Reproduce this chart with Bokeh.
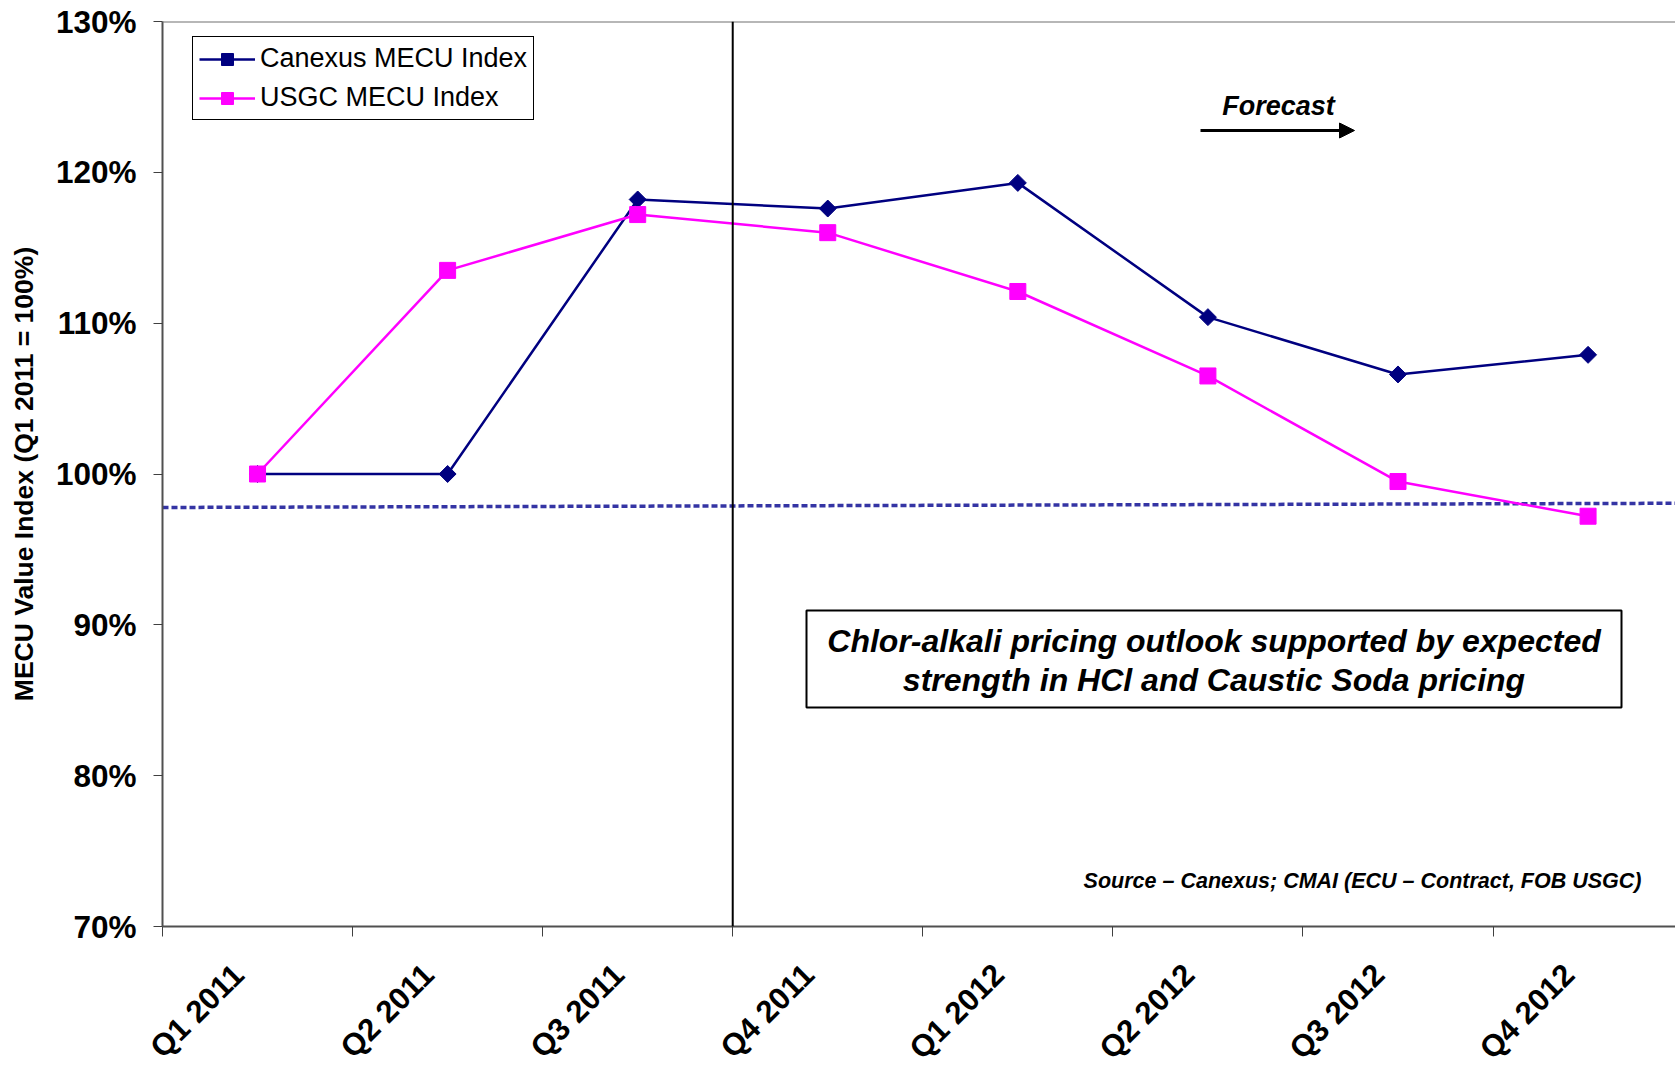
from math import pi
from bokeh.plotting import figure
from bokeh.models import (FixedTicker, Range1d, Span, Arrow, NormalHead, Label,
                          BoxAnnotation, Legend, LegendItem)
from bokeh.embed import file_html
from bokeh.resources import INLINE

# ---- data ----
quarters = ["Q1 2011", "Q2 2011", "Q3 2011", "Q4 2011",
            "Q1 2012", "Q2 2012", "Q3 2012", "Q4 2012"]
canexus = [100.0, 100.0, 118.2, 117.6, 119.3, 110.4, 106.6, 107.9]
usgc = [100.0, 113.5, 117.2, 116.0, 112.1, 106.5, 99.5, 97.2]
trend_x = [0.0, 8.0]
trend_y = [97.78, 98.06]
y_ticks = [70, 80, 90, 100, 110, 120, 130]
forecast_split = 3.0

FONT = "Liberation Sans"

# frame geometry (pixels) used only to place annotations
L, T, W, H = 162, 21, 1513, 905
X_END = 7.96
def fx(px):
    return (px - L) / W * X_END
def fy(py):
    return 130 - (py - T) / H * 60

xc = [i + 0.5 for i in range(len(quarters))]
LABEL_SHIFT = 0.1  # rotated labels sit a little left of the category centre
label_pos = [c - LABEL_SHIFT for c in xc]

p = figure(frame_width=W, frame_height=H, x_range=Range1d(0, X_END), y_range=Range1d(70, 130),
           output_backend="svg", toolbar_location=None,
           min_border_left=L, min_border_right=0, min_border_top=T, min_border_bottom=8)
p.background_fill_color = "white"
p.border_fill_color = "white"
p.outline_line_color = None
p.xgrid.visible = False
p.ygrid.visible = False

# top border of plot area
p.add_layout(Span(location=130, dimension="width", line_color="#707070", line_width=2))

# x axis
p.xaxis.ticker = FixedTicker(ticks=label_pos, minor_ticks=list(range(len(quarters) + 1)))
p.xaxis.major_label_overrides = {v: q for v, q in zip(label_pos, quarters)}
p.xaxis.major_tick_out = 0
p.xaxis.major_tick_in = 0
p.xaxis.minor_tick_out = 10
p.xaxis.minor_tick_in = 0
p.xaxis.minor_tick_line_color = "#404040"
p.xaxis.major_label_orientation = pi / 4
p.xaxis.major_label_standoff = 33
p.xaxis.major_label_text_font = FONT
p.xaxis.major_label_text_font_style = "bold"
p.xaxis.major_label_text_font_size = "31px"
p.xaxis.major_label_text_color = "black"
p.xaxis.axis_line_color = "#505050"
p.xaxis.axis_line_width = 2

# y axis
p.yaxis.ticker = FixedTicker(ticks=y_ticks)
p.yaxis.major_label_overrides = {v: f"{v}%" for v in y_ticks}
p.yaxis.major_tick_out = 9
p.yaxis.major_tick_in = 0
p.yaxis.minor_tick_out = 0
p.yaxis.minor_tick_in = 0
p.yaxis.major_tick_line_color = "#404040"
p.yaxis.major_label_standoff = 17
p.yaxis.major_label_text_font = FONT
p.yaxis.major_label_text_font_style = "bold"
p.yaxis.major_label_text_font_size = "31.5px"
p.yaxis.major_label_text_color = "black"
p.yaxis.axis_line_color = "#505050"
p.yaxis.axis_line_width = 2
p.yaxis.axis_label = "MECU Value Index (Q1 2011 = 100%)"
p.yaxis.axis_label_text_font = FONT
p.yaxis.axis_label_text_font_style = "bold"
p.yaxis.axis_label_text_font_size = "26.5px"
p.yaxis.axis_label_text_color = "black"
p.yaxis.axis_label_standoff = 14

# trend (dashed)
p.line(trend_x, trend_y, line_color="#3434a4", line_width=3.5, line_dash="6 3")

# forecast split
p.add_layout(Span(location=forecast_split, dimension="height", line_color="black", line_width=2))

# series
navy = "#000080"
mag = "#FF00FF"
r1 = p.line(xc, canexus, line_color=navy, line_width=2.5)
r1m = p.scatter(xc, canexus, marker="square", angle=pi / 4, size=12, fill_color=navy, line_color=navy)
r2 = p.line(xc, usgc, line_color=mag, line_width=2.5)
r2m = p.scatter(xc, usgc, marker="square", size=16, fill_color=mag, line_color=mag)

legend = Legend(items=[LegendItem(label="Canexus MECU Index", renderers=[r1, r1m]),
                       LegendItem(label="USGC MECU Index", renderers=[r2, r2m])],
                location=(30, H - 18 - 81))
legend.label_text_font = FONT
legend.label_text_font_size = "27px"
legend.label_text_color = "black"
legend.border_line_color = "black"
legend.border_line_width = 1
legend.border_line_alpha = 1
legend.background_fill_color = "white"
legend.background_fill_alpha = 1
legend.glyph_width = 56
legend.glyph_height = 30
legend.label_height = 30
legend.label_standoff = 5
legend.spacing = 8
legend.padding = 6
legend.margin = 0
p.add_layout(legend)

# forecast arrow and text
p.add_layout(Arrow(end=NormalHead(size=15, fill_color="black", line_color="black"),
                   x_start=fx(1200), y_start=fy(130), x_end=fx(1354), y_end=fy(130),
                   line_color="black", line_width=3))
p.add_layout(Label(x=fx(1278), y=fy(105), text="Forecast", text_align="center",
                   text_baseline="middle", text_font=FONT, text_font_style="bold italic",
                   text_font_size="27px", text_color="black"))

# annotation box
p.add_layout(BoxAnnotation(left=fx(806), right=fx(1621), top=fy(610), bottom=fy(707),
                           fill_color="white", fill_alpha=1, line_color="black",
                           line_alpha=1, line_width=2))
p.add_layout(Label(x=fx(1213.5), y=fy(660),
                   text="Chlor-alkali pricing outlook supported by expected\nstrength in HCl and Caustic Soda pricing",
                   text_align="center", text_baseline="middle", text_font=FONT,
                   text_font_style="bold italic", text_font_size="32px", text_color="black",
                   text_line_height=1.1))

# source note
p.add_layout(Label(x=fx(1641), y=fy(880), text="Source \u2013 Canexus; CMAI (ECU \u2013 Contract, FOB USGC)",
                   text_align="right", text_baseline="middle", text_font=FONT,
                   text_font_style="bold italic", text_font_size="21.5px", text_color="black"))

open("out.html", "w").write(file_html(p, INLINE))
